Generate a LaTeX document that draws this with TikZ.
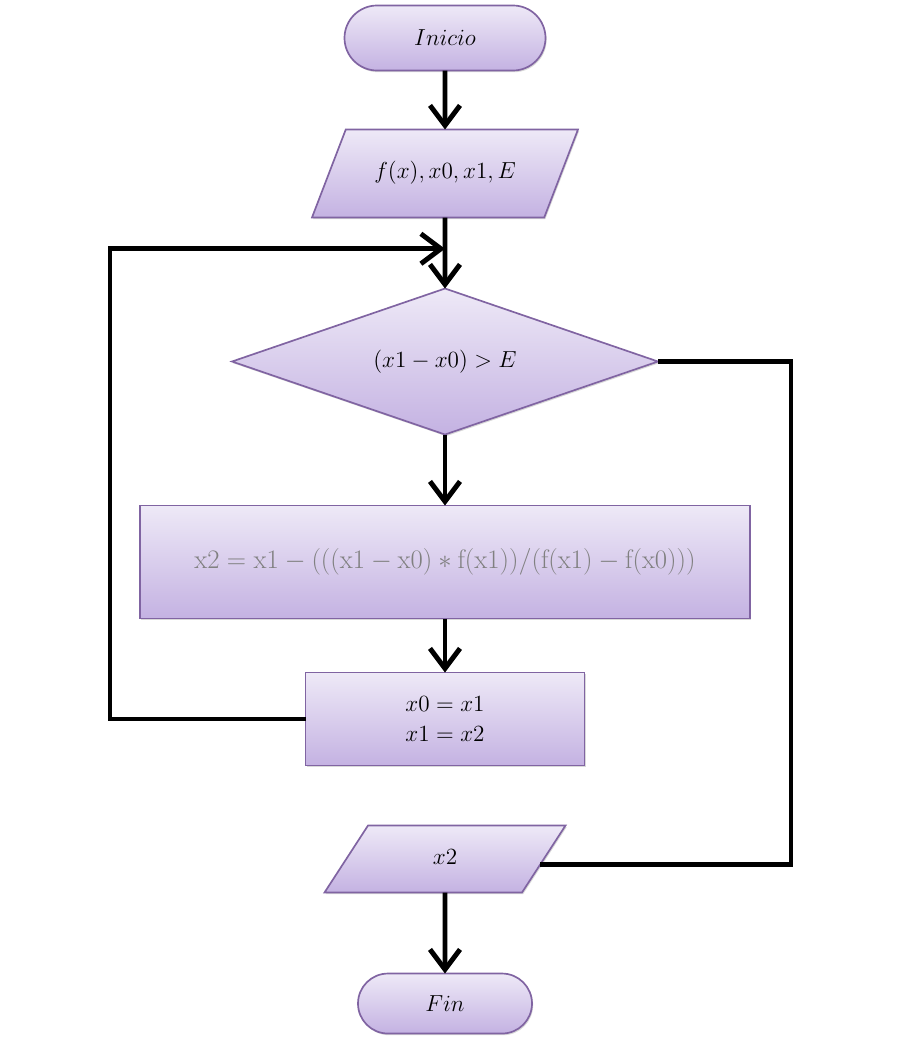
\RequirePackage{fix-cm}
\documentclass[tikz,border=0pt]{standalone}
\usepackage{amsmath}
\usetikzlibrary{arrows.meta,positioning,calc,shapes.geometric,shapes.misc,shadows}

\definecolor{lilacline}{RGB}{128,100,162}
\definecolor{lilactop}{RGB}{238,233,247}
\definecolor{lilacbot}{RGB}{196,178,226}
\definecolor{formulagray}{RGB}{128,128,128}

\begin{document}
\begin{tikzpicture}[
    font=\fontsize{16.5}{21}\selectfont,
    >={Straight Barb[length=5mm,width=7.5mm]},
    line join=miter,
    base/.style={draw=lilacline, line width=1.2pt, top color=lilactop, bottom color=lilacbot,
                 inner sep=0pt, outer sep=0pt, align=center,
                 drop shadow={shadow xshift=0.8pt, shadow yshift=-1.2pt, opacity=0.3}},
    terminal/.style={base, rounded rectangle},
    io/.style={base, trapezium, trapezium stretches body, text height=0.4cm, text depth=0.15cm},
    decision/.style={base, diamond, aspect=2.9},
    process/.style={base, rectangle},
    flow/.style={->, line width=3.5pt},
    link/.style={line width=3.5pt}
]

\useasboundingbox (0,0) rectangle (22.5,-26.5);

% ------------------------
% Main column
% ------------------------
\node[terminal, minimum width=5.025cm, minimum height=1.625cm] (start) at (11.125,-0.95) {$Inicio$};
\node[io, trapezium left angle=69, trapezium right angle=111, inner ysep=0.825cm,
      minimum width=6.65cm, below=1.475cm of start] (in) {$f(x), x0, x1, E$};
\node[decision, minimum width=10.65cm, minimum height=3.65cm, below=1.775cm of in] (cond) {$(x1 - x0) > E$};
\node[process, minimum width=15.25cm, minimum height=2.825cm, below=1.775cm of cond] (calc)
    {\fontsize{19}{23}\selectfont\color{formulagray}$\mathrm{x2} = \mathrm{x1} - (((\mathrm{x1} - \mathrm{x0}) \ast \mathrm{f(x1)})/(\mathrm{f(x1)} - \mathrm{f(x0)}))$};
\node[process, minimum width=6.975cm, minimum height=2.325cm, below=1.35cm of calc] (upd) {$x0 = x1$\\$x1 = x2$};
\node[io, trapezium left angle=57, trapezium right angle=123, inner ysep=0.5625cm,
      minimum width=6.025cm, below=1.5cm of upd] (out) {$x2$};
\node[terminal, minimum width=4.35cm, minimum height=1.5cm, below=2.025cm of out] (end) {$Fin$};

\draw[flow] (start) -- (in);
\draw[flow] (in) -- (cond);
\draw[flow] (cond) -- (calc);
\draw[flow] (calc) -- (upd);
\draw[flow] (out) -- (end);

% ------------------------
% Loop back and exit
% ------------------------
\coordinate (merge) at ($(in.south)!0.44!(cond.north)$);
\coordinate (exit) at ($(out.top right corner)!0.58!(out.bottom right corner)$);
\coordinate (lrail) at (2.75,0);
\coordinate (rrail) at (19.775,0);

\draw[flow] (upd.west) -| (lrail |- merge) -- (merge);
\draw[link] (cond.east) -| (rrail |- exit) -- (exit);

\end{tikzpicture}
\end{document}
